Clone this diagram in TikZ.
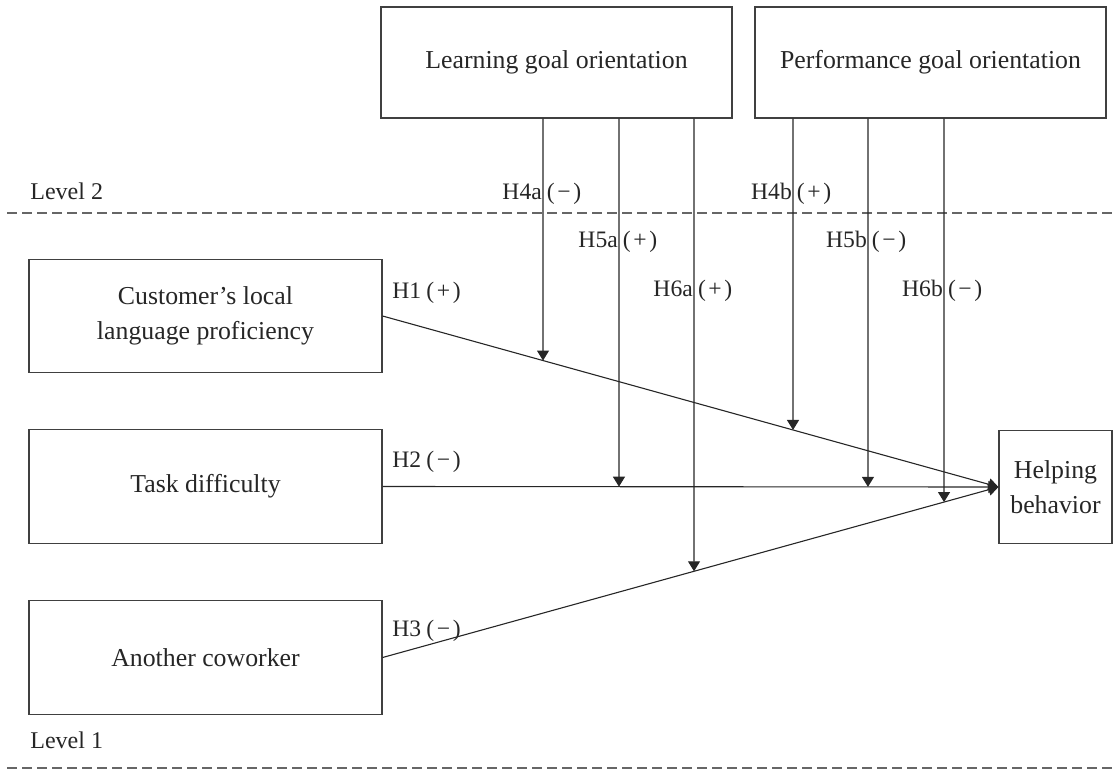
\documentclass[tikz,border=0pt]{standalone}
\usepackage{fontspec}
\setmainfont{Liberation Serif}
\usetikzlibrary{arrows.meta}
\newcommand\hlab[2]{\llap{#1\kern0.8pt}\kern1.8pt(\kern1.3pt#2\kern1.3pt)}
\newcommand\hplain[2]{#1\kern2.6pt(\kern1.3pt#2\kern1.3pt)}
\begin{document}
\begin{tikzpicture}[x=0.5pt,y=-0.5pt,
  box/.style={draw=black!75, line width=0.6pt, inner sep=0pt, align=center,
    text=black!85, font=\fontsize{12.9}{17.5}\selectfont},
  topbox/.style={box, minimum width=175.5pt, minimum height=55.5pt},
  leftbox/.style={box, minimum width=176.5pt, minimum height=56.75pt},
  lab/.style={inner sep=0pt, text=black!85, font=\fontsize{11.8}{14}\selectfont, anchor=base west},
  lvl/.style={inner sep=0pt, text=black!85, font=\fontsize{12}{14}\selectfont, anchor=base west},
  conn/.style={draw=black!85, line width=0.55pt, -{Triangle[length=5pt,width=6pt]}},
  sep/.style={draw=black!60, line width=0.6pt, dash pattern=on 5pt off 2.5pt}]
\useasboundingbox (0,0) rectangle (1113,771);

% level separators
\draw[sep] (7,213) -- (1113,213);
\draw[sep] (7,768) -- (1113,768);
\node[lvl] (lv2) at (30,199) {Level 2};
\node[lvl] (lv1) at (30,748) {Level 1};

% boxes
\node[topbox] (lgo) at (556.5,62.5) {Learning goal orientation};
\node[topbox] (pgo) at (930.5,62.5) {Performance goal orientation};
\node[leftbox] (cust) at (205.5,316) {Customer’s local\\language proficiency};
\node[leftbox] (task) at (205.5,486.5) {Task difficulty};
\node[leftbox] (cow) at (205.5,657.5) {Another coworker};
\node[box, minimum width=56.5pt, minimum height=56.5pt] (help) at (1055.5,487) {Helping\\behavior};

% main paths
\coordinate (tip) at (help.west);
\draw[conn] (cust.east) -- (tip);
\draw[conn] (task.east) -- (tip);
\draw[conn] (cow.east) -- (tip);

% moderator lines
\foreach \n/\x in {1/543,2/619,3/694,4/793,5/868,6/944}{
  \coordinate (t\n) at (\x,0);
  \coordinate (b\n) at (\x,800);
}
\draw[conn] (lgo.south -| t1) -- (intersection of cust.east--tip and t1--b1);
\draw[conn] (lgo.south -| t2) -- (intersection of task.east--tip and t2--b2);
\draw[conn] (lgo.south -| t3) -- (intersection of cow.east--tip and t3--b3);
\draw[conn] (pgo.south -| t4) -- (intersection of cust.east--tip and t4--b4);
\draw[conn] (pgo.south -| t5) -- (intersection of task.east--tip and t5--b5);
\draw[conn] (pgo.south -| t6) -- (intersection of cow.east--tip and t6--b6);

% hypothesis labels
\node[lab] (h4a) at (543,199) {\hlab{H4a}{−}};
\node[lab] (h5a) at (619,247) {\hlab{H5a}{+}};
\node[lab] (h6a) at (694,296) {\hlab{H6a}{+}};
\node[lab] (h4b) at (793,199) {\hlab{H4b}{+}};
\node[lab] (h5b) at (868,247) {\hlab{H5b}{−}};
\node[lab] (h6b) at (944,296) {\hlab{H6b}{−}};
\node[lab] (h1) at (392,298) {\hplain{H1}{+}};
\node[lab] (h2) at (392,467) {\hplain{H2}{−}};
\node[lab] (h3) at (392,636) {\hplain{H3}{−}};
\end{tikzpicture}
\end{document}
